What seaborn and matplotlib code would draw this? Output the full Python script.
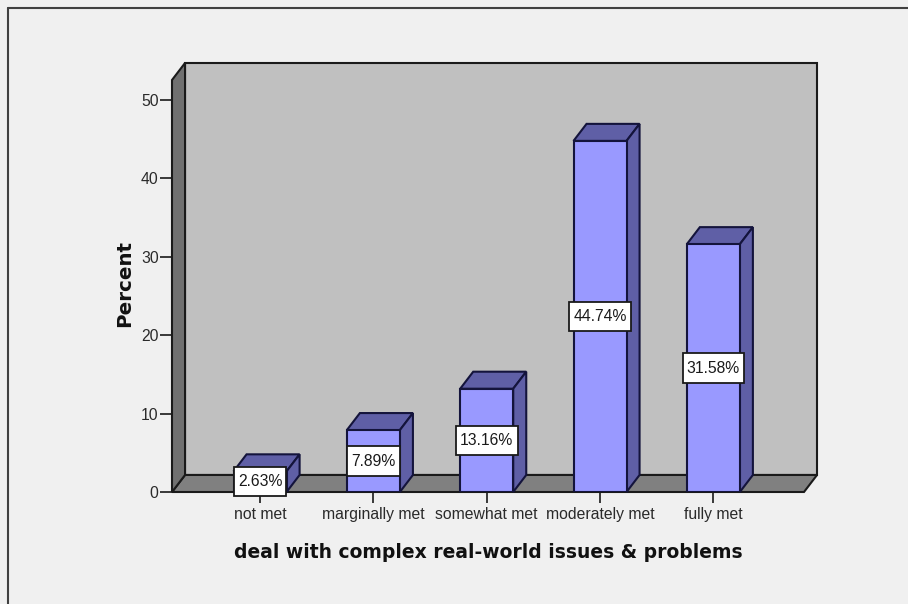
import matplotlib
matplotlib.use("Agg")
import matplotlib.pyplot as plt
from matplotlib.lines import Line2D
from matplotlib.patches import Polygon
from matplotlib.path import Path
import seaborn as sns

categories = ["not met", "marginally met", "somewhat met", "moderately met", "fully met"]
percents = [2.63, 7.89, 13.16, 44.74, 31.58]
y_ticks = [0, 10, 20, 30, 40, 50]
x_title = "deal with complex real-world issues & problems"
y_title = "Percent"

PAGE = "#f0f0f0"
WALL = "#c0c0c0"
FLOOR = "#808080"
SIDE_WALL = "#707070"
FRONT = "#9999ff"
SHADE = "#5f5fa6"
BAR_EDGE = "#14143c"
INK = "#2a2a2a"

W, H = 908, 604
sns.set_theme(style="white")
plt.rcParams["font.family"] = ["Liberation Sans", "DejaVu Sans"]

fig = plt.figure(figsize=(W / 100, H / 100), dpi=100, facecolor=PAGE)
ax = fig.add_axes([172 / W, (H - 492) / H, 632 / W, 412 / H])
ax.patch.set_visible(False)

BAR_WIDTH = 0.468
sns.barplot(x=categories, y=percents, order=categories, color=FRONT, saturation=1,
            width=BAR_WIDTH, edgecolor=BAR_EDGE, linewidth=1.5, ax=ax, zorder=3)

x0, x1 = -0.777, 4.8
y1 = 52.5
ax.set_xlim(x0, x1)
ax.set_ylim(0, y1)

# oblique depth of the box, in data units
dx, dy = 0.115, 2.17


def face(points, color, z, edge="#1a1a1a", lw=1.5):
    ax.add_patch(Polygon(points, closed=True, facecolor=color, edgecolor=edge,
                         linewidth=lw, zorder=z, clip_on=False, joinstyle="miter"))


def label_box(x, y, width, height, size):
    # rectangle with more padding above and below the text than at its sides
    px, py = 0.27 * size, 0.46 * size
    left, right, low, high = x - px, x + width + px, y - py, y + height + py
    return Path([(left, low), (right, low), (right, high), (left, high), (left, low)], closed=True)


# chart box: back wall, floor, left wall
face([(x0 + dx, dy), (x1 + dx, dy), (x1 + dx, y1 + dy), (x0 + dx, y1 + dy)], WALL, 0.5)
face([(x0, 0), (x1, 0), (x1 + dx, dy), (x0 + dx, dy)], FLOOR, 0.6)
face([(x0, 0), (x0 + dx, dy), (x0 + dx, y1 + dy), (x0, y1)], SIDE_WALL, 0.7)

# bar tops, right sides and value boxes
for i, v in enumerate(percents):
    left, right = i - BAR_WIDTH / 2, i + BAR_WIDTH / 2
    face([(left, v), (right, v), (right + dx, v + dy), (left + dx, v + dy)], SHADE, 2.5, BAR_EDGE)
    face([(right, 0), (right + dx, dy), (right + dx, v + dy), (right, v)], SHADE, 2.5, BAR_EDGE)
    ax.text(i, v / 2, f"{v:.2f}%", ha="center", va="center", fontsize=11.3, color="#1a1a1a", zorder=6,
            bbox=dict(boxstyle=label_box, facecolor="white", edgecolor="#1a1a1a", linewidth=1.3))

for side in ("top", "right", "bottom", "left"):
    ax.spines[side].set_visible(False)

ax.set_yticks(y_ticks)
ax.tick_params(axis="y", left=True, length=8.6, width=1.3, color=INK, labelsize=11.3,
               labelcolor=INK, pad=1.0)
ax.tick_params(axis="x", bottom=True, length=8, width=1.3, color=INK, labelsize=11.3,
               labelcolor=INK, pad=2.5)
ax.set_xlabel(x_title, fontsize=13.5, fontweight="bold", family="DejaVu Sans", color="#111111", labelpad=15.5)
ax.set_ylabel(y_title, fontsize=14.3, fontweight="bold", family="DejaVu Sans", color="#111111", labelpad=5, y=0.505)

# outer frame along the top and left of the page
fig.add_artist(Line2D([8 / W, 8 / W], [0, (H - 8) / H], color="#404040", lw=1.5))
fig.add_artist(Line2D([8 / W, 1], [(H - 8) / H, (H - 8) / H], color="#404040", lw=1.5))

fig.savefig("out.png", dpi=100, facecolor=PAGE)
